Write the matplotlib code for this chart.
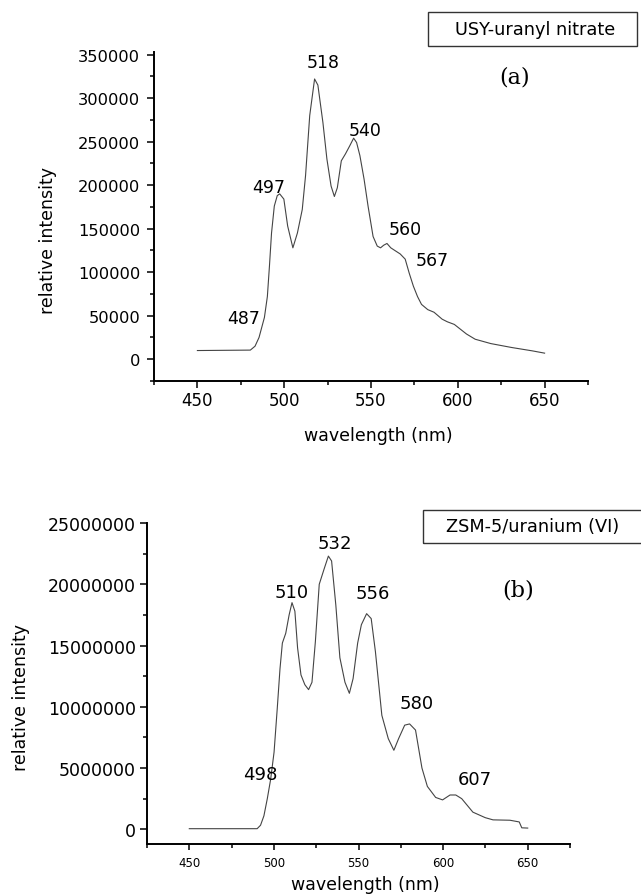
import matplotlib
matplotlib.use("Agg")
import matplotlib.pyplot as plt
from matplotlib.patches import Rectangle
from matplotlib.ticker import MultipleLocator

# (a) USY-uranyl nitrate spectrum
wl_a = [450, 480.5, 483.2, 485.5, 488.6, 490.3, 491.5, 492.7, 494.3, 496, 497.4, 499.8,
        502, 505, 507.6, 510.4, 512.3, 514.7, 517.5, 519.4, 522.3, 524.6, 527, 528.9,
        530.6, 532.9, 535.3, 537.7, 540, 541.7, 543.6, 546, 548.3, 551.2, 553.6, 555.5,
        557.3, 559.2, 561.4, 563.7, 566.8, 569.7, 572, 574.4, 576.8, 579.1, 582.7, 586.3,
        591, 594, 598, 605, 610, 619, 631, 643, 650]
int_a = [10000, 10500, 15000, 25000, 48000, 72000, 107000, 145000, 176000, 188000, 190000, 184000,
         153000, 128000, 145000, 172000, 211000, 280000, 322000, 315000, 272000, 230000, 199000, 187000,
         197000, 228000, 236000, 245000, 254000, 249000, 234000, 207000, 176000, 141000, 130000, 128000,
         131000, 133000, 128000, 125000, 121000, 115000, 99000, 84000, 72000, 63000, 57000, 54000,
         46000, 43000, 40000, 29000, 23000, 18000, 13500, 9600, 7000]
peaks_a = ["518", "497", "540", "560", "567", "487"]
peak_pos_a = [(522.7, 341500), (490.8, 198000), (546.4, 263000), (569.7, 150000), (585, 113500), (476.5, 47000)]

# (b) ZSM-5/uranium (VI) spectrum
wl_b = [450, 490.1, 492.1, 494.1, 496.1, 498.1, 500.1, 502, 503.6, 505, 507, 509, 510.7,
        512.4, 514, 516, 518.3, 520.5, 522.5, 524.5, 526.8, 529.8, 532.2, 534.1, 536.6,
        539, 542, 544.6, 546.8, 549.5, 551.7, 554.8, 557.5, 560, 563.8, 567.6, 570.9,
        573.7, 577.3, 580.2, 583.7, 587.5, 590.7, 595.6, 599.7, 604.1, 607.5, 611, 617.6,
        624.9, 629.5, 639.5, 645, 646.5, 650]
int_b = [0.05e6, 0.05e6, 0.33e6, 1.1e6, 2.5e6, 4.1e6, 6.3e6, 9.9e6, 13.1e6, 15.2e6, 16.0e6, 17.5e6, 18.5e6,
         17.8e6, 14.8e6, 12.6e6, 11.8e6, 11.4e6, 12.0e6, 15.3e6, 20.0e6, 21.3e6, 22.3e6, 21.9e6, 18.3e6,
         14.0e6, 12.0e6, 11.1e6, 12.3e6, 15.2e6, 16.7e6, 17.6e6, 17.2e6, 14.5e6, 9.3e6, 7.4e6, 6.45e6,
         7.4e6, 8.5e6, 8.6e6, 8.1e6, 5.0e6, 3.5e6, 2.6e6, 2.4e6, 2.8e6, 2.8e6, 2.5e6, 1.4e6,
         0.95e6, 0.77e6, 0.74e6, 0.6e6, 0.12e6, 0.1e6]
peaks_b = ["532", "510", "556", "580", "607", "498"]
peak_pos_b = [(535.9, 23.4e6), (510.2, 19.4e6), (558.5, 19.3e6), (584.1, 10.3e6), (618.8, 4.1e6), (492, 4.5e6)]

W, H = 641, 895
fig = plt.figure(figsize=(W / 100, H / 100), dpi=100)


def px_axes(l, t, r, b):
    return fig.add_axes([l / W, 1 - b / H, (r - l) / W, (b - t) / H])


def style(ax, xlsize, ylsize):
    for s in ["top", "right"]:
        ax.spines[s].set_visible(False)
    for s in ["left", "bottom"]:
        ax.spines[s].set_linewidth(1.4)
    ax.xaxis.set_major_locator(MultipleLocator(50))
    ax.xaxis.set_minor_locator(MultipleLocator(25))
    ax.tick_params(which="both", direction="out", width=1.1)
    ax.tick_params(which="major", length=5)
    ax.tick_params(which="minor", length=3)
    ax.tick_params(axis="x", labelsize=xlsize)
    ax.tick_params(axis="y", labelsize=ylsize, pad=5)


# ---- panel (a)
ax1 = px_axes(154, 53, 588, 382)
ax1.plot(wl_a, int_a, color="#444444", lw=0.8)
ax1.set_xlim(425, 675)
ax1.set_ylim(-25000, 353000)
ax1.yaxis.set_major_locator(MultipleLocator(50000))
ax1.yaxis.set_minor_locator(MultipleLocator(25000))
style(ax1, 12, 11.7)
ax1.tick_params(axis="x", pad=2)
ax1.set_xlabel("wavelength (nm)", fontsize=12.5)
ax1.set_ylabel("relative intensity", fontsize=12.5)
ax1.xaxis.set_label_coords(0.518, -0.138)
ax1.yaxis.set_label_coords(-0.224, 0.43)
for lab, (x, y) in zip(peaks_a, peak_pos_a):
    ax1.text(x, y, lab, ha="center", va="center", fontsize=12.5)
ax1.text(632.5, 325000, "(a)", ha="center", va="center", fontsize=16, family="DejaVu Serif")

# ---- panel (b)
ax2 = px_axes(147, 524, 570, 845)
ax2.plot(wl_b, int_b, color="#444444", lw=0.8)
ax2.set_xlim(425, 675)
ax2.set_ylim(-1.2e6, 25e6)
ax2.yaxis.set_major_locator(MultipleLocator(5e6))
ax2.yaxis.set_minor_locator(MultipleLocator(2.5e6))
style(ax2, 8.5, 12.5)
ax2.tick_params(axis="x", which="major", length=4, pad=5)
ax2.tick_params(axis="y", pad=3)
ax2.ticklabel_format(axis="y", style="plain", useOffset=False)
ax2.set_xlabel("wavelength (nm)", fontsize=12.5)
ax2.set_ylabel("relative intensity", fontsize=12.5)
ax2.xaxis.set_label_coords(0.517, -0.097)
ax2.yaxis.set_label_coords(-0.276, 0.458)
for lab, (x, y) in zip(peaks_b, peak_pos_b):
    ax2.text(x, y, lab, ha="center", va="center", fontsize=13)
ax2.text(644.4, 19.6e6, "(b)", ha="center", va="center", fontsize=16, family="DejaVu Serif")

# ---- boxed sample names
fig.patches.append(Rectangle((428 / W, 1 - 47 / H), 209 / W, 34 / H, transform=fig.transFigure,
                             fill=False, lw=1.0, ec="#333333"))
fig.text(535 / W, 1 - 30 / H, "USY-uranyl nitrate", ha="center", va="center", fontsize=12.8)
fig.patches.append(Rectangle((423 / W, 1 - 544 / H), 240 / W, 33 / H, transform=fig.transFigure,
                             fill=False, lw=1.0, ec="#333333", clip_on=False))
fig.text(533 / W, 1 - 527 / H, "ZSM-5/uranium (VI)", ha="center", va="center", fontsize=12.8)

fig.savefig("out.png", dpi=100)
